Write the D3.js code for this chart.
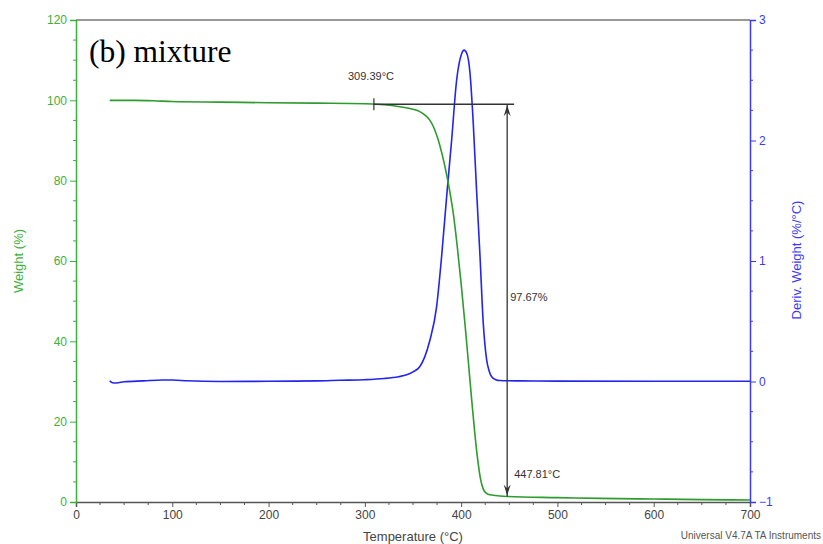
<!DOCTYPE html>
<html>
<head>
<meta charset="utf-8">
<script src="https://cdn.jsdelivr.net/npm/d3@7"></script>
<style>
  html, body { margin: 0; padding: 0; background: #fff; }
  svg { display: block; }
</style>
</head>
<body>
<svg id="chart" width="823" height="544"></svg>
<script>
// TGA run of the mixture: weight loss and its derivative versus temperature
const tempTicks = [0, 100, 200, 300, 400, 500, 600, 700];
const weightTicks = [0, 20, 40, 60, 80, 100, 120];
const derivTicks = [-1, 0, 1, 2, 3];

// Weight (%) curve
const weightTemp = [35, 60, 80, 100, 150, 200, 250, 300, 309.39, 320, 336.5, 350, 357, 362, 367.6, 372, 376, 380, 384, 388, 392, 396, 400, 404, 408, 411, 414, 417, 420, 423, 426, 430, 440, 447.81, 500, 544, 600, 650, 700];
const weightVal  = [100, 100, 99.9, 99.7, 99.55, 99.4, 99.3, 99.15, 99.05, 98.9, 98.4, 97.8, 97.2, 96.4, 95.0, 93.0, 90.3, 86.8, 82.6, 77.6, 71.6, 63.5, 54.3, 44.3, 33.5, 25.3, 17.6, 10.9, 5.9, 3.2, 2.2, 1.8, 1.5, 1.38, 1.1, 0.9, 0.75, 0.6, 0.5];

// Derivative weight (%/°C) curve
const derivTemp = [35, 38, 42, 50, 70, 90, 100, 115, 150, 200, 250, 274, 300, 320, 335, 343.4, 350, 357, 362, 367.6, 374.5, 379.7, 384.9, 390.1, 395.3, 400.5, 403, 406, 409.2, 412.6, 416, 419.6, 423, 426.5, 429, 431.7, 436, 440, 460, 500, 600, 700];
const derivVal  = [0.005, -0.01, -0.012, -0.002, 0.005, 0.012, 0.012, 0.006, 0.0, 0.002, 0.005, 0.01, 0.015, 0.025, 0.04, 0.055, 0.08, 0.123, 0.2, 0.344, 0.62, 1.036, 1.53, 2.0, 2.5, 2.72, 2.75, 2.72, 2.56, 2.14, 1.59, 1.04, 0.48, 0.18, 0.09, 0.04, 0.015, 0.008, 0.005, 0.003, 0.002, 0.002];

// Onset / residue annotation
const onsetTemp = 309.39;
const endTemp = 447.81;
const weightAtOnset = 99.05;
const weightLossPct = 97.67;
const stepEndTemp = 455;

const svg = d3.select("#chart");
const plotLeft = 76, plotRight = 750, plotTop = 20, plotBottom = 502;

const green = "#3daf3d", greenLine = "#2e9b2e";
const blue = "#3b3bf5", blueLine = "#2424f0";
const gray = "#555";

const x = d3.scaleLinear().domain([0, 700]).range([plotLeft, plotRight]);
const yW = d3.scaleLinear().domain([0, 120]).range([plotBottom, plotTop]);
const yD = d3.scaleLinear().domain([-1, 3]).range([plotBottom, plotTop]);

// top frame line
svg.append("line").attr("x1", plotLeft).attr("x2", plotRight).attr("y1", plotTop).attr("y2", plotTop)
  .attr("stroke", "#777").attr("stroke-width", 1.5);

// bottom axis with minor ticks every 25 °C
const xMinor = d3.range(0, 701, 25).filter(v => v % 100 !== 0);
const gx = svg.append("g").attr("transform", `translate(0,${plotBottom})`);
gx.call(d3.axisBottom(x).tickValues(tempTicks).tickFormat(d3.format("d")).tickSize(5).tickPadding(3));
gx.append("g").selectAll("line").data(xMinor).join("line")
  .attr("x1", d => x(d)).attr("x2", d => x(d)).attr("y1", 0).attr("y2", 3)
  .attr("stroke", gray);
gx.select(".domain").attr("stroke", gray).attr("stroke-width", 1.5);
gx.selectAll(".tick line").attr("stroke", gray);
gx.selectAll("text").attr("fill", "#444").style("font", "12px 'Liberation Sans', Arial, sans-serif");

// left weight axis, minor ticks every 5 %
const wMinor = d3.range(0, 121, 5).filter(v => v % 20 !== 0);
const gl = svg.append("g").attr("transform", `translate(${plotLeft},0)`);
gl.call(d3.axisLeft(yW).tickValues(weightTicks).tickSize(6).tickPadding(3));
gl.append("g").selectAll("line").data(wMinor).join("line")
  .attr("x1", 0).attr("x2", -3).attr("y1", d => yW(d)).attr("y2", d => yW(d))
  .attr("stroke", green);
gl.select(".domain").attr("stroke", green).attr("stroke-width", 1.5);
gl.selectAll(".tick line").attr("stroke", green);
gl.selectAll("text").attr("fill", green).style("font", "12px 'Liberation Sans', Arial, sans-serif");

// right derivative axis, minor ticks every 0.25
const dMinor = d3.range(-1, 3.01, 0.25).filter(v => Math.abs(v - Math.round(v)) > 1e-6);
const gr = svg.append("g").attr("transform", `translate(${plotRight},0)`);
gr.call(d3.axisRight(yD).tickValues(derivTicks).tickFormat(d3.format("d")).tickSize(6).tickPadding(3));
gr.append("g").selectAll("line").data(dMinor).join("line")
  .attr("x1", 0).attr("x2", 3).attr("y1", d => yD(d)).attr("y2", d => yD(d))
  .attr("stroke", blue);
gr.select(".domain").attr("stroke", blue).attr("stroke-width", 1.5);
gr.selectAll(".tick line").attr("stroke", blue);
gr.selectAll("text").attr("fill", blue).style("font", "12px 'Liberation Sans', Arial, sans-serif");

// curves
const wData = weightTemp.map((t, i) => [t, weightVal[i]]);
const dData = derivTemp.map((t, i) => [t, derivVal[i]]);

svg.append("path").datum(dData)
  .attr("fill", "none").attr("stroke", blueLine).attr("stroke-width", 1.6)
  .attr("d", d3.line().x(d => x(d[0])).y(d => yD(d[1])).curve(d3.curveMonotoneX));

svg.append("path").datum(wData)
  .attr("fill", "none").attr("stroke", greenLine).attr("stroke-width", 1.6)
  .attr("d", d3.line().x(d => x(d[0])).y(d => yW(d[1])).curve(d3.curveMonotoneX));

// step annotation: onset line, tick mark and double arrow for the weight loss
const weightAtEnd = weightAtOnset - weightLossPct;
const ann = svg.append("g").attr("stroke", "#333").attr("fill", "none");
ann.append("line").attr("x1", x(onsetTemp)).attr("x2", x(stepEndTemp))
  .attr("y1", yW(weightAtOnset)).attr("y2", yW(weightAtOnset)).attr("stroke-width", 1.5);
ann.append("line").attr("x1", x(onsetTemp)).attr("x2", x(onsetTemp))
  .attr("y1", yW(weightAtOnset) - 6).attr("y2", yW(weightAtOnset) + 6).attr("stroke-width", 1.2);
ann.append("line").attr("x1", x(endTemp)).attr("x2", x(endTemp))
  .attr("y1", yW(weightAtOnset)).attr("y2", yW(weightAtEnd)).attr("stroke-width", 1.3);

function arrowHead(px, py, dir) {
  // dir = -1 points up, +1 points down
  const h = 11, w = 3.5;
  return `M${px},${py} L${px - w},${py - dir * h} L${px},${py - dir * (h - 4)} L${px + w},${py - dir * h} Z`;
}
svg.append("path").attr("d", arrowHead(x(endTemp), yW(weightAtOnset) + 1, -1)).attr("fill", "#333");
svg.append("path").attr("d", arrowHead(x(endTemp), yW(weightAtEnd) - 1, 1)).attr("fill", "#333");

const annFont = "11px 'Liberation Sans', Arial, sans-serif";
svg.append("text").attr("x", 348).attr("y", 80).attr("fill", "#333").style("font", annFont)
  .text(d3.format(".2f")(onsetTemp) + "°C");
svg.append("text").attr("x", x(endTemp) + 3).attr("y", yW((weightAtOnset + weightAtEnd) / 2) + 1)
  .attr("fill", "#333").style("font", annFont).text(d3.format(".2f")(weightLossPct) + "%");
svg.append("text").attr("x", x(endTemp) + 7).attr("y", 478).attr("fill", "#333").style("font", annFont)
  .text(d3.format(".2f")(endTemp) + "°C");

// panel label
svg.append("text").attr("x", 89).attr("y", 62).attr("fill", "#000")
  .style("font", "31.5px 'Liberation Serif', 'Times New Roman', serif").text("(b) mixture");

// axis titles
const titleFont = "13px 'Liberation Sans', Arial, sans-serif";
svg.append("text").attr("transform", "translate(23,261) rotate(-90)").attr("text-anchor", "middle")
  .attr("fill", green).style("font", titleFont).text("Weight (%)");
svg.append("text").attr("transform", "translate(801,260) rotate(-90)").attr("text-anchor", "middle")
  .attr("fill", blue).style("font", titleFont).text("Deriv. Weight (%/°C)");
svg.append("text").attr("x", 413).attr("y", 541).attr("text-anchor", "middle")
  .attr("fill", "#444").style("font", titleFont).text("Temperature (°C)");
svg.append("text").attr("x", 821).attr("y", 539).attr("text-anchor", "end")
  .attr("fill", "#555").style("font", "10px 'Liberation Sans', Arial, sans-serif")
  .text("Universal V4.7A TA Instruments");
</script>
</body>
</html>
